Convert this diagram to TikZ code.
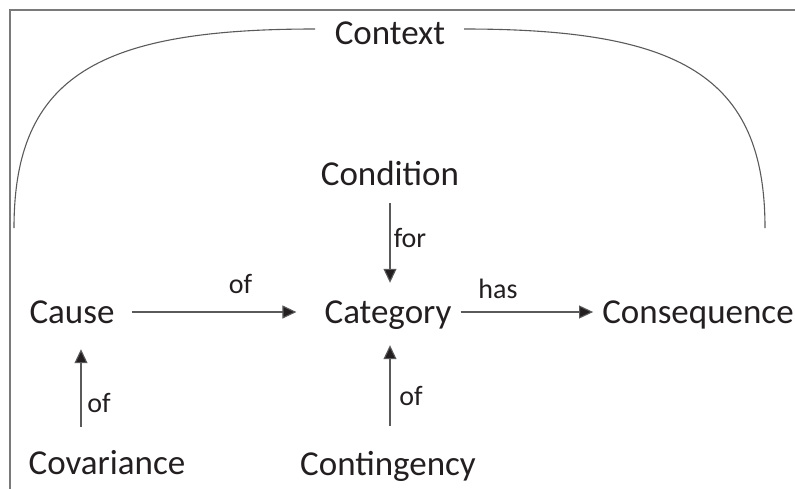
\documentclass[tikz,border=0pt]{standalone}
\usepackage{fontspec}
\setmainfont{Carlito}
\usetikzlibrary{arrows.meta}
\definecolor{txt}{HTML}{231F20}
\definecolor{ln}{HTML}{5A5A5A}
\definecolor{frm}{HTML}{7A7A7A}
\begin{document}
\begin{tikzpicture}[x=1pt,y=-1pt,
  concept/.style={inner sep=0pt,text height=24pt,text depth=2pt,anchor=base,text=txt,font=\fontsize{35}{40}\selectfont},
  lbl/.style={inner sep=0pt,anchor=base,text=txt,font=\fontsize{28}{32}\selectfont},
  arr/.style={draw=ln,line width=1.1pt,-{Triangle[length=14pt,width=13pt,fill=txt]}},
  ctx/.style={draw=ln,line width=1.1pt}]
\useasboundingbox (0,0) rectangle (795,488);
\draw[frm,line width=1.5pt] (10,500) -- (10,10) -- (810,10);
% nodes
\node[concept] (context) at (390,44) {Context};
\node[concept] (condition) at (390,185) {Condition};
\node[concept] (cause) at (72,323) {Cause};
\node[concept] (category) at (388,323) {Category};
\node[concept] (consequence) at (698,323) {Consequence};
\node[concept] (covariance) at (107,474) {Covariance};
\node[concept] (contingency) at (388,475) {Contingency};
% context curves
\coordinate (cl) at (315,29);
\coordinate (cr) at (464,29);
\coordinate (el) at (14,228);
\coordinate (er) at (765,228);
\draw[ctx] (cl) .. controls (100,29) and (14,75) .. (el);
\draw[ctx] (cr) .. controls (679,29) and (765,75) .. (er);
% arrows
\draw[arr,shorten <=17pt,shorten >=28pt] (cause) -- (category) node[lbl,pos=0.6,yshift=19pt] {of};
\draw[arr,shorten <=9pt,shorten >=9pt] (category) -- (consequence);
\node[lbl] (has) at (498,298) {has};
\draw[arr,shorten <=16pt,shorten >=16pt] (condition.south -| 390,0) -- (category.north -| 390,0);
\node[lbl] (for) at (410,247) {for};
\draw[arr,shorten <=25pt,shorten >=20pt] (contingency.north -| 390,0) -- (category.south -| 390,0);
\node[lbl] (of3) at (411,405) {of};
\draw[arr,shorten <=23pt,shorten >=24pt] (covariance.north -| 81,0) -- (cause.south -| 81,0);
\node[lbl] (of2) at (99,412) {of};
\end{tikzpicture}
\end{document}
